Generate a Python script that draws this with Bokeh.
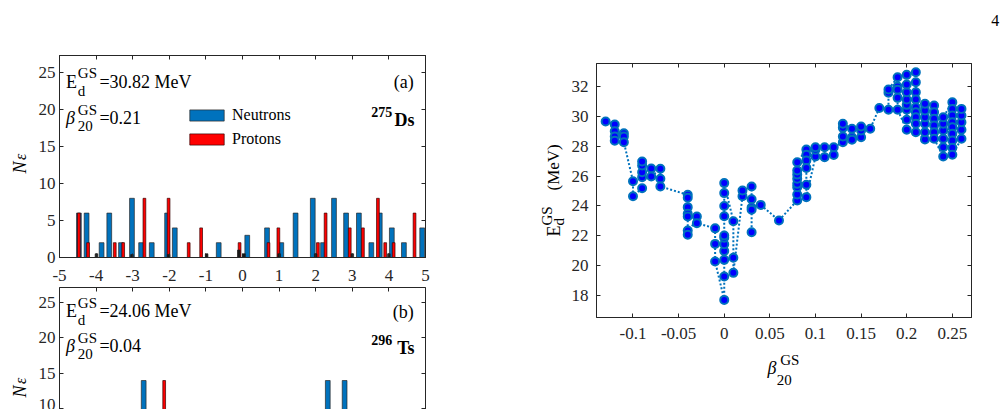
import numpy as np
from bokeh.plotting import figure
from bokeh.models import (ColumnDataSource, Range1d, LinearAxis, FixedTicker,
                          Label, Legend, LegendItem)
from bokeh.layouts import row, column
from bokeh.embed import file_html
from bokeh.resources import INLINE

# ---------------- data ----------------
# (a) 275Ds: number of states per energy bin (MeV)
a_neutron_e = [-4.47, -4.26, -3.85, -3.64, -3.32, -3.02, -2.77, -2.48, -2.06, -1.85,
               -0.65, 0.13, 0.67, 1.06, 1.45, 1.92, 2.20, 2.50, 2.83, 3.18,
               3.52, 3.75, 4.08, 4.41, 4.91]
a_neutron_n = [6, 6, 2, 6, 2, 8, 2, 2, 6, 4,
               2, 3, 4, 2, 6, 8, 2, 8, 6, 6,
               2, 6, 4, 2, 4]
a_proton_e = [-4.47, -4.22, -3.49, -3.26, -2.68, -2.02, -1.47, -1.13, -0.08, 0.71,
              0.98, 2.06, 2.27, 2.93, 3.29, 3.70, 3.90, 4.13, 4.70]
a_proton_n = [6, 2, 2, 2, 8, 8, 2, 4, 2, 2,
              4, 2, 6, 4, 4, 8, 2, 2, 6]
a_other_e = [-3.99, -3.02, -2.02, -0.98, -0.10, 0.04, 1.00, 2.00, 3.00, 4.00]
a_other_n = [0.5, 0.4, 0.4, 0.5, 1.0, 0.5, 0.5, 0.5, 0.5, 0.5]

# (b) 296Ts
b_neutron_e = [-2.70, 2.33, 2.79]
b_neutron_n = [14, 14, 14]
b_proton_e = [-2.14]
b_proton_n = [14]

energy_ticks = [-5, -4, -3, -2, -1, 0, 1, 2, 3, 4, 5]
energy_labels = ["-5", "-4", "-3", "-2", "-1", "0", "1", "2", "3", "4", "5"]
count_ticks = [0, 5, 10, 15, 20, 25]

# Ground-state deformation energy vs quadrupole deformation
beta20 = [
    -0.13,
    -0.12, -0.12, -0.12, -0.12,
    -0.11, -0.11, -0.11,
    -0.10, -0.10,
    -0.09, -0.09, -0.09, -0.09, -0.09,
    -0.08, -0.08,
    -0.07, -0.07, -0.07,
    -0.04, -0.04, -0.04, -0.04, -0.04, -0.04, -0.04,
    -0.03, -0.03,
    -0.01, -0.01, -0.01,
    0.00, 0.00, 0.00, 0.00, 0.00, 0.00, 0.00, 0.00, 0.00, 0.00, 0.00,
    0.01, 0.01, 0.01,
    0.02, 0.02,
    0.03, 0.03, 0.03, 0.03, 0.03,
    0.04,
    0.06,
    0.08, 0.08, 0.08, 0.08, 0.08, 0.08, 0.08, 0.08,
    0.09, 0.09, 0.09, 0.09, 0.09, 0.09,
    0.10, 0.10, 0.10,
    0.11, 0.11,
    0.12, 0.12,
    0.13, 0.13, 0.13, 0.13,
    0.14, 0.14, 0.14,
    0.15, 0.15, 0.15,
    0.16,
    0.17,
    0.18, 0.18, 0.18,
    0.19, 0.19, 0.19, 0.19, 0.19,
    0.20, 0.20, 0.20, 0.20, 0.20, 0.20, 0.20, 0.20,
    0.21, 0.21, 0.21, 0.21, 0.21, 0.21, 0.21, 0.21, 0.21,
    0.22, 0.22, 0.22, 0.22, 0.22, 0.22,
    0.23, 0.23, 0.23, 0.23, 0.23, 0.23,
    0.24, 0.24, 0.24, 0.24, 0.24, 0.24,
    0.25, 0.25, 0.25, 0.25, 0.25, 0.25, 0.25, 0.25, 0.25,
    0.26, 0.26, 0.26, 0.26, 0.26,
]
e_def = [
    29.66,
    29.45, 29.00, 28.65, 28.37,
    28.87, 28.65, 28.27,
    25.66, 24.65,
    25.19, 25.92, 26.26, 26.71, 26.98,
    26.50, 25.97,
    26.49, 25.82, 25.30,
    24.75, 24.55, 23.92, 23.47, 23.29, 22.35, 22.07,
    23.29, 22.85,
    22.50, 21.46, 20.28,
    17.71, 19.27, 20.39, 20.98, 21.44, 21.87, 22.02, 23.31, 24.00, 24.86, 25.53,
    22.98, 20.53, 19.52,
    24.65, 25.03,
    25.30, 24.45, 23.90, 22.24, 23.75,
    24.07,
    23.03,
    24.37, 24.77, 25.26, 25.48, 25.82, 26.10, 26.37, 26.93,
    27.78, 27.43, 27.04, 26.55, 25.42, 24.59,
    27.31, 27.76, 27.93,
    27.93, 27.27,
    27.42, 27.93,
    28.27, 28.65, 29.23, 29.50,
    29.17, 28.60, 28.43,
    28.60, 29.05, 29.32,
    29.17,
    30.56,
    30.44, 31.58, 31.80,
    32.62, 32.00, 31.78, 31.24, 30.44,
    29.10, 29.77, 30.44, 30.77, 31.13, 31.62, 32.13, 32.78,
    32.96, 32.29, 31.62, 31.13, 30.61, 30.28, 29.94, 29.50, 28.94,
    28.45, 28.94, 29.50, 29.94, 30.40, 30.84,
    30.73, 30.28, 29.84, 29.39, 28.94, 28.50,
    27.31, 27.93, 28.50, 29.05, 29.50, 29.94,
    30.95, 30.50, 30.06, 29.61, 29.27, 28.83, 28.38, 27.89, 27.43,
    28.50, 29.10, 29.61, 30.06, 30.50,
]
beta_ticks = [-0.1, -0.05, 0, 0.05, 0.1, 0.15, 0.2, 0.25]
beta_labels = ["-0.1", "-0.05", "0", "0.05", "0.1", "0.15", "0.2", "0.25"]
edef_ticks = [18, 20, 22, 24, 26, 28, 30, 32]

# ---------------- styling helpers ----------------
AX = "#262626"
SERIF = "Liberation Serif"
BLUE = "#0072BD"
RED = "#FF0000"
UP = np.pi / 2


def add_axis(p, side, ticks, labels=None, size="17px", standoff=5):
    ax = LinearAxis(ticker=FixedTicker(ticks=ticks))
    ax.axis_line_color = AX
    ax.major_tick_line_color = AX
    ax.major_tick_in = 4
    ax.major_tick_out = 0
    ax.minor_tick_line_color = None
    ax.major_label_text_font = SERIF
    if labels is None:
        # tick marks only on the mirrored sides of the box
        ax.major_label_text_color = None
        ax.major_label_text_font_size = "0px"
        ax.major_label_standoff = 0
    else:
        ax.major_label_text_color = AX
        ax.major_label_text_font_size = size
        ax.major_label_standoff = standoff
        if labels is not True:
            ax.major_label_overrides = {t: s for t, s in zip(ticks, labels)}
    p.add_layout(ax, side)
    return ax


def put(p, x, y, s, size, style="normal", angle=0.0, align="left", color="black"):
    p.add_layout(Label(x=x, y=y, text=s, text_font=SERIF, text_font_size=size,
                       text_font_style=style, angle=angle, text_align=align,
                       text_baseline="alphabetic", text_color=color))


def blank(p):
    p.background_fill_color = "white"
    p.border_fill_color = "white"
    p.xgrid.visible = False
    p.ygrid.visible = False
    return p


def base_fig(w, h, xr, yr, left, right, top, bottom):
    p = figure(width=w, height=h, x_range=Range1d(*xr), y_range=Range1d(*yr),
               output_backend="svg", toolbar_location=None,
               x_axis_location=None, y_axis_location=None,
               min_border_left=left, min_border_right=right,
               min_border_top=top, min_border_bottom=bottom)
    return blank(p)


class Strip:
    """An empty canvas holding axis titles; positions are pixels from its top-left."""

    def __init__(self, w, h):
        self.h = h
        self.fig = blank(figure(width=w, height=h, x_range=Range1d(0, w),
                                y_range=Range1d(0, h), output_backend="svg",
                                toolbar_location=None, x_axis_location=None,
                                y_axis_location=None, min_border=0,
                                min_border_left=0, min_border_right=0,
                                min_border_top=0, min_border_bottom=0))
        self.fig.outline_line_color = None

    def put(self, x, y, s, size, **kw):
        put(self.fig, x, self.h - y, s, size, **kw)


def bars(p, e, n, width, color, line):
    src = ColumnDataSource(dict(e=e, n=n))
    return p.vbar(x="e", top="n", bottom=0, width=width, source=src,
                  fill_color=color, line_color=line, line_width=0.7)


def level_panel(p, ed, beta, tag, A, sym):
    put(p, -4.825, 23.75, "E", "18px")
    put(p, -4.50, 22.55, "d", "15px")
    put(p, -4.50, 24.9, "GS", "15px")
    put(p, -3.91, 23.75, "=" + ed + " MeV", "18px")
    put(p, -4.825, 18.85, "\u03b2", "18px", style="italic")
    put(p, -4.50, 19.95, "GS", "15px")
    put(p, -4.50, 17.8, "20", "15px")
    put(p, -3.91, 18.85, "=" + beta, "18px")
    put(p, 4.68, 23.7, tag, "18px", align="right")
    put(p, 4.70, 18.6, sym, "18px", style="bold", align="right")
    put(p, 4.09, 19.65, A, "14px", style="bold", align="right")


# ---------------- panel (a) ----------------
pa = base_fig(410, 286, (-5, 5), (0, 27.3), 29, 15, 55, 29)
pa.outline_line_color = AX
add_axis(pa, "below", energy_ticks, energy_labels, standoff=12)
add_axis(pa, "above", energy_ticks)
add_axis(pa, "left", count_ticks, True, standoff=4)
add_axis(pa, "right", count_ticks)
rn = bars(pa, a_neutron_e, a_neutron_n, 0.13, BLUE, "#2a2a2a")
rp = bars(pa, a_proton_e, a_proton_n, 0.075, RED, "#3a0000")
bars(pa, a_other_e, a_other_n, 0.07, "#1a1a1a", "#1a1a1a")
legend = Legend(items=[LegendItem(label="Neutrons", renderers=[rn]),
                       LegendItem(label="Protons", renderers=[rp])],
                location=(126, 109), glyph_width=43, glyph_height=14,
                label_height=14, label_standoff=4, spacing=6, padding=0, margin=0,
                border_line_color=None, background_fill_alpha=0,
                label_text_font=SERIF, label_text_font_size="16px",
                label_text_color="black")
pa.add_layout(legend)
level_panel(pa, "30.82", "0.21", "(a)", "275", "Ds")

# ---------------- panel (b) ----------------
pb = base_fig(410, 123, (-5, 5), (9.92, 27.1), 29, 15, 1, 0)
pb.outline_line_color = None
add_axis(pb, "above", energy_ticks)
add_axis(pb, "left", count_ticks, True, standoff=4)
add_axis(pb, "right", count_ticks)
bars(pb, b_neutron_e, b_neutron_n, 0.13, BLUE, "#2a2a2a")
bars(pb, b_proton_e, b_proton_n, 0.075, RED, "#3a0000")
level_panel(pb, "24.06", "0.04", "(b)", "296", "Ts")

# y titles of panels (a) and (b)
ny = Strip(30, 409)
ny.put(19.3, 173, "N", "18px", style="italic", angle=UP)
ny.put(19.5, 159.5, "\u03b5", "16px", style="italic", angle=UP)
ny.put(19.3, 397, "N", "18px", style="italic", angle=UP)
ny.put(19.5, 383.5, "\u03b5", "16px", style="italic", angle=UP)

# ---------------- right panel ----------------
pc = base_fig(441, 298, (-0.14, 0.271), (16.53, 33.54), 30, 36, 13, 31)
pc.outline_line_color = AX
add_axis(pc, "below", beta_ticks, beta_labels, standoff=10)
add_axis(pc, "above", beta_ticks)
add_axis(pc, "left", edef_ticks, True, standoff=8)
add_axis(pc, "right", edef_ticks)
src = ColumnDataSource(dict(b=beta20, e=e_def))
pc.line("b", "e", source=src, line_color=BLUE, line_width=2, line_dash="2 2")
pc.scatter("b", "e", source=src, size=8, fill_color="#0000FF",
           line_color=BLUE, line_width=2)

# page number above the right panel
top = Strip(567, 50)
top.put(550.7, 20, "4", "16px")

# y title of the right panel
ey = Strip(126, 359)
ey.put(113, 186, "E", "18px", angle=UP)
ey.put(118, 175, "d", "15px", angle=UP)
ey.put(106, 175, "GS", "15px", angle=UP)
ey.put(113, 140, "(MeV)", "17px", angle=UP)

# x title of the right panel
bx = Strip(441, 61)
bx.put(201, 19, "\u03b2", "18px", style="italic")
bx.put(216, 11, "GS", "15px")
bx.put(212, 31, "20", "15px")

layout = row(ny.fig, column(pa, pb),
             column(top.fig, row(ey.fig, column(pc, bx.fig))))
open("out.html", "w").write(file_html(layout, INLINE))
